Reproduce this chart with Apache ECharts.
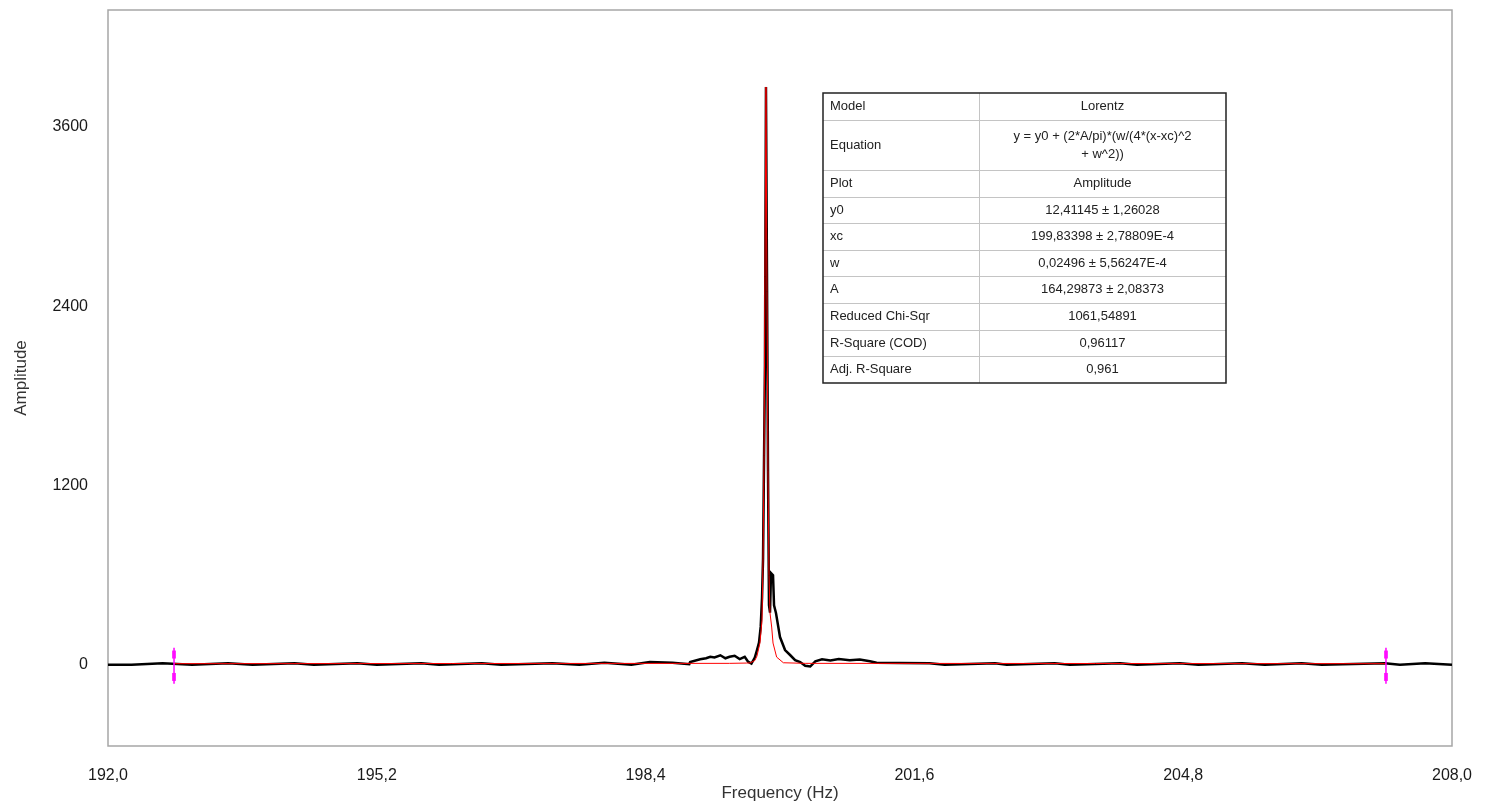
<!DOCTYPE html>
<html>
<head>
<meta charset="utf-8">
<script src="https://cdn.jsdelivr.net/npm/echarts@6/dist/echarts.min.js"></script>
<style>
  html, body { margin: 0; padding: 0; background: #fff; }
  #chart { width: 1492px; height: 805px; }
</style>
</head>
<body>
<div id="chart"></div>
<script>
// measured spectrum (black)
const freqData = [
  192.00, 192.28, 192.29, 192.65, 192.66, 193.00, 193.01, 193.43, 193.44, 193.72,
  193.73, 194.22, 194.23, 194.45, 194.46, 194.97, 194.98, 195.20, 195.21, 195.73,
  195.74, 195.94, 195.95, 196.45, 196.46, 196.68, 196.69, 197.29, 197.30, 197.61,
  197.62, 197.91, 197.92, 198.23, 198.24, 198.45, 198.72, 198.73, 198.92, 198.93,
  199.05, 199.12, 199.17, 199.22, 199.29, 199.35, 199.40, 199.46, 199.52, 199.58,
  199.62, 199.66, 199.70, 199.726, 199.75, 199.77, 199.786, 199.798, 199.81, 199.821,
  199.833, 199.845, 199.857, 199.869, 199.881, 199.893, 199.917, 199.929, 199.952, 200.00,
  200.06, 200.12, 200.18, 200.24, 200.30, 200.36, 200.42, 200.50, 200.60, 200.70,
  200.83, 200.95, 201.07, 201.15, 201.42, 201.43, 201.78, 201.79, 201.96, 201.97,
  202.56, 202.57, 202.70, 202.71, 203.27, 203.28, 203.45, 203.46, 204.05, 204.06,
  204.25, 204.26, 204.76, 204.77, 204.98, 204.99, 205.50, 205.51, 205.77, 205.78,
  206.21, 206.22, 206.45, 206.46, 207.20, 207.21, 207.38, 207.39, 207.68, 207.69,
  208.00
];
const ampData = [
  2, 2, 11, 11, 2, 2, 11, 11, 2, 2,
  11, 11, 2, 2, 11, 11, 2, 2, 11, 11,
  2, 2, 11, 11, 2, 2, 11, 11, 2, 2,
  15, 15, 2, 2, 15, 20, 15, 5, 5, 20,
  38, 45, 55, 50, 65, 45, 55, 62, 40, 55,
  22, 10, 50, 100, 150, 255, 450, 710, 700, 2000,
  3868, 2620, 1320, 400, 350, 615, 600, 400, 348, 187,
  100, 67, 33, 20, -5, -10, 25, 38, 30, 40,
  32, 36, 25, 15, 13, 11, 11, 2, 2, 11,
  11, 2, 2, 11, 11, 2, 2, 11, 11, 2,
  2, 11, 11, 2, 2, 11, 11, 2, 2, 11,
  11, 2, 2, 11, 11, 2, 2, 11, 11, 2,
  2
];

// Lorentz fit curve (red)
const freqFit = [
  192.786, 199.40, 199.60, 199.643, 199.70, 199.726, 199.762, 199.786, 199.798, 199.81,
  199.821, 199.833, 199.845, 199.857, 199.869, 199.881, 199.901, 199.917, 199.96, 200.04,
  200.30, 207.214
];
const ampFit = [
  9, 11, 13, 14, 30, 60, 150, 300, 710, 1400,
  2600, 3868, 2500, 1300, 600, 348, 254, 147, 53, 15,
  11, 9
];

// fit range markers (magenta)
const markerFreqs = [192.786, 207.214];
const markerSpan = [115, -125];
const markerHandles = [70, -80];

const xTicks = [192.0, 195.2, 198.4, 201.6, 204.8, 208.0];
const yTicks = [0, 1200, 2400, 3600];

const tableKeys = ['Model', 'Equation', 'Plot', 'y0', 'xc', 'w', 'A',
  'Reduced Chi-Sqr', 'R-Square (COD)', 'Adj. R-Square'];
const tableVals = ['Lorentz', 'y = y0 + (2*A/pi)*(w/(4*(x-xc)^2\n+ w^2))', 'Amplitude',
  '12,41145 \u00b1 1,26028', '199,83398 \u00b1 2,78809E-4', '0,02496 \u00b1 5,56247E-4',
  '164,29873 \u00b1 2,08373', '1061,54891', '0,96117', '0,961'];

const FONT = 'Arial, "Liberation Sans", sans-serif';

function pairs(xs, ys) {
  return xs.map((x, i) => [x, ys[i]]);
}

function buildTable() {
  const left = 823, mid = 979, right = 1226, top = 93;
  const rowH = [27, 50, 27, 26, 27, 26, 27, 27, 26, 27];
  const els = [];
  let y = top;
  const total = rowH.reduce((a, b) => a + b, 0);
  els.push({
    type: 'rect',
    shape: { x: left, y: top, width: right - left, height: total },
    style: { fill: '#fff', stroke: 'none' },
    z: 10
  });
  tableKeys.forEach((k, i) => {
    const h = rowH[i];
    if (i > 0) {
      els.push({
        type: 'line',
        shape: { x1: left, y1: y + 0.5, x2: right, y2: y + 0.5 },
        style: { stroke: '#c4c4c4', lineWidth: 1 },
        z: 11
      });
    }
    els.push({
      type: 'text',
      x: left + 7, y: y + h / 2,
      style: { text: k, font: '13px ' + FONT, fill: '#222', verticalAlign: 'middle', align: 'left' },
      z: 12
    });
    els.push({
      type: 'text',
      x: (mid + right) / 2, y: y + h / 2,
      style: { text: tableVals[i], font: '13px ' + FONT, fill: '#222', verticalAlign: 'middle',
        align: 'center', lineHeight: 18 },
      z: 12
    });
    y += h;
  });
  els.push({
    type: 'line',
    shape: { x1: mid + 0.5, y1: top, x2: mid + 0.5, y2: top + total },
    style: { stroke: '#c4c4c4', lineWidth: 1 },
    z: 11
  });
  els.push({
    type: 'rect',
    shape: { x: left, y: top, width: right - left, height: total },
    style: { fill: 'none', stroke: '#222', lineWidth: 1.5 },
    z: 13
  });
  return els;
}

const chart = echarts.init(document.getElementById('chart'));

const markerSeries = [];
markerFreqs.forEach(f => {
  markerSeries.push({
    type: 'line',
    data: markerSpan.map(v => [f, v]),
    showSymbol: false,
    lineStyle: { color: '#ff00ff', width: 1.5 },
    z: 5
  });
  markerSeries.push({
    type: 'scatter',
    data: markerHandles.map(v => [f, v]),
    symbol: 'rect',
    symbolSize: [4, 8],
    itemStyle: { color: '#ff00ff' },
    z: 6
  });
});

chart.setOption({
  animation: false,
  backgroundColor: '#fff',
  grid: {
    left: 108, right: 40, top: 10, bottom: 59,
    outerBoundsMode: 'none',
    containLabel: false,
    show: true,
    borderColor: '#a6a6a6',
    borderWidth: 1.5
  },
  xAxis: {
    type: 'value',
    min: 192,
    max: 208,
    name: 'Frequency (Hz)',
    nameLocation: 'middle',
    nameGap: 39,
    nameMoveOverlap: false,
    nameTextStyle: { fontFamily: FONT, fontSize: 17, color: '#333' },
    axisLine: { show: false },
    axisTick: { show: false },
    splitLine: { show: false },
    axisLabel: {
      customValues: xTicks,
      margin: 22,
      fontFamily: FONT,
      fontSize: 16,
      color: '#1a1a1a',
      formatter: v => v.toFixed(1).replace('.', ',')
    }
  },
  yAxis: {
    type: 'value',
    min: -542,
    max: 4383,
    name: 'Amplitude',
    nameLocation: 'middle',
    nameGap: 78,
    nameMoveOverlap: false,
    nameTextStyle: { fontFamily: FONT, fontSize: 17, color: '#333' },
    axisLine: { show: false },
    axisTick: { show: false },
    splitLine: { show: false },
    axisLabel: {
      customValues: yTicks,
      margin: 20,
      fontFamily: FONT,
      fontSize: 16,
      color: '#1a1a1a',
      formatter: v => String(v)
    }
  },
  series: [
    {
      type: 'line',
      data: pairs(freqData, ampData),
      showSymbol: false,
      lineStyle: { color: '#000', width: 2.5, join: 'miter' },
      z: 2
    },
    {
      type: 'line',
      data: pairs(freqFit, ampFit),
      showSymbol: false,
      lineStyle: { color: '#ff0000', width: 1 },
      z: 3
    }
  ].concat(markerSeries),
  graphic: buildTable()
});
</script>
</body>
</html>
